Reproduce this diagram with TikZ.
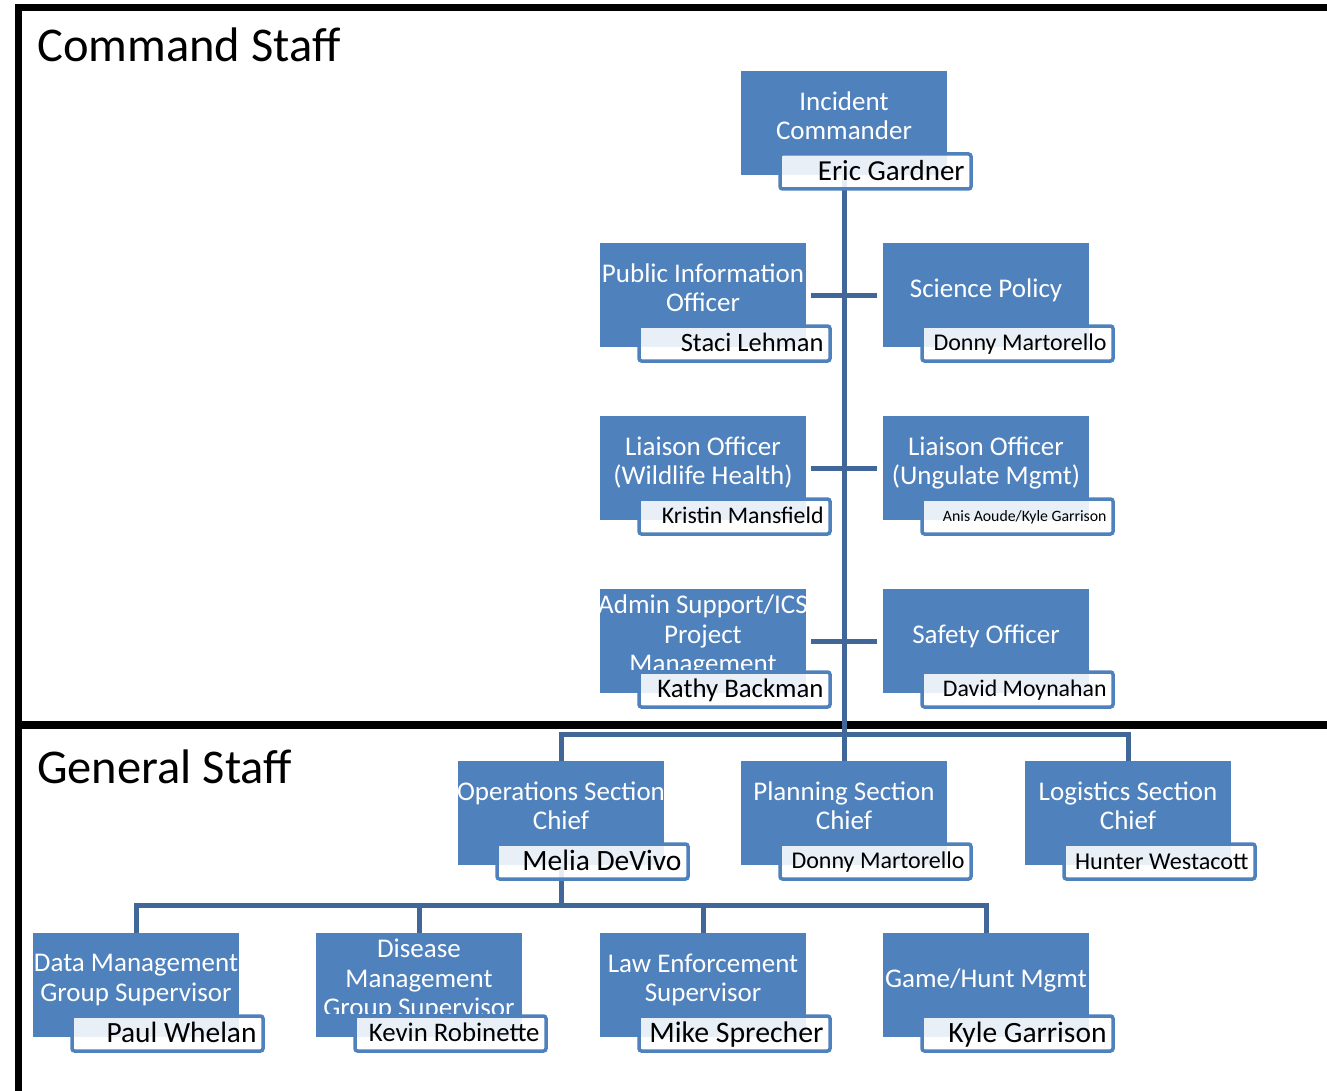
\documentclass[tikz,border=0pt]{standalone}
\usepackage{fontspec}
\setmainfont{Carlito}
\usetikzlibrary{backgrounds,calc}
\definecolor{boxblue}{RGB}{79,129,189}
\definecolor{connblue}{RGB}{65,103,152}
\tikzset{
  bluebox/.style={fill=boxblue, draw=none, minimum width=206pt, minimum height=104pt, inner sep=0pt},
  namebox/.style={draw=boxblue, line width=3.5pt, rounded corners=2.5pt, fill=white, fill opacity=0.88, minimum width=191pt, minimum height=35pt, inner sep=0pt},
  titletext/.style={text=white, align=center, inner sep=0pt, font=\fontsize{27}{29.5}\selectfont},
  nametext/.style={text=black, inner sep=0pt, anchor=base east},
  conn/.style={draw=connblue, line width=5pt},
  frameline/.style={draw=black},
  heading/.style={anchor=base west, inner sep=0pt, font=\fontsize{48.5}{52}\selectfont}
}
% #1 id, #2 left x, #3 top y, #4 title, #5 name, #6 name font size
\newcommand\orgunit[6]{%
  \node[bluebox] (#1) at (#2+103,#3+52) {};
  \begin{scope}
    \clip (#2-12,#3) rectangle (#2+218,#3+80);
    \node[titletext] (#1t) at (#2+103,#3+47) {#4\vphantom{y}};
  \end{scope}
  \node[namebox] (#1n) at (#2+134.5,#3+100.5) {};
  \node[nametext, font=\fontsize{#6}{#6}\selectfont] (#1nt) at ([xshift=-8pt,yshift=-0.31*#6]#1n.east) {#5};
}
\begin{document}
\begin{tikzpicture}[x=1pt,y=-1pt]
\useasboundingbox (0,0) rectangle (1327,1091);

\node[heading] (cstitle) at (37,62) {Command Staff};
\node[heading] (gstitle) at (37,783) {General Staff};

\orgunit{ic}{741}{71}{Incident\\Commander}{Eric Gardner}{29}
\orgunit{pio}{600}{243}{Public Information\\Officer}{Staci Lehman}{26.5}
\orgunit{sci}{883}{243}{Science Policy}{Donny Martorello}{24}
\orgunit{lwh}{600}{416}{Liaison Officer\\(Wildlife Health)}{Kristin Mansfield}{23.8}
\orgunit{lum}{883}{416}{Liaison Officer\\(Ungulate Mgmt)}{Anis Aoude/Kyle Garrison}{15.8}
\orgunit{adm}{600}{589}{Admin Support/ICS\\Project\\Management}{Kathy Backman}{26.8}
\orgunit{saf}{883}{589}{Safety Officer}{David Moynahan}{23.8}
\orgunit{ops}{458}{761}{Operations Section\\Chief}{Melia DeVivo}{29.5}
\orgunit{pln}{741}{761}{Planning Section\\Chief}{Donny Martorello}{24}
\orgunit{log}{1025}{761}{Logistics Section\\Chief}{Hunter Westacott}{24.2}
\orgunit{dm}{33}{933}{Data Management\\Group Supervisor}{Paul Whelan}{29.4}
\orgunit{dis}{316}{933}{Disease\\Management\\Group Supervisor}{Kevin Robinette}{26.8}
\orgunit{law}{600}{933}{Law Enforcement\\Supervisor}{Mike Sprecher}{29.8}
\orgunit{gh}{883}{933}{Game/Hunt Mgmt}{Kyle Garrison}{29.5}

\begin{pgfonlayer}{background}
  \fill[white] (0,0) rectangle (1327,1091);
  \draw[frameline, line width=7pt] (18.5,4) -- (18.5,1091);
  \draw[frameline, line width=7pt] (15,8) -- (1327,8);
  \draw[frameline, line width=8pt] (15,725) -- (1327,725);
  % command staff
  \draw[conn] (ic.south) -- (pln.north);
  \draw[conn] ([xshift=5pt]pio.east) -- ([xshift=-6pt]sci.west);
  \draw[conn] ([xshift=5pt]lwh.east) -- ([xshift=-6pt]lum.west);
  \draw[conn] ([xshift=5pt]adm.east) -- ([xshift=-6pt]saf.west);
  % general staff
  \draw[conn] (ops.north) -- ++(0,-26) -| (log.north);
  \coordinate (obar) at ($(dis.north)+(0,-27)$);
  \draw[conn] (ops.south) -- (ops.south |- obar);
  \draw[conn] (dm.north) -- ++(0,-27) -| (gh.north);
  \draw[conn] (dis.north) -- (obar);
  \draw[conn] (law.north) -- ++(0,-27);
\end{pgfonlayer}
\end{tikzpicture}
\end{document}
